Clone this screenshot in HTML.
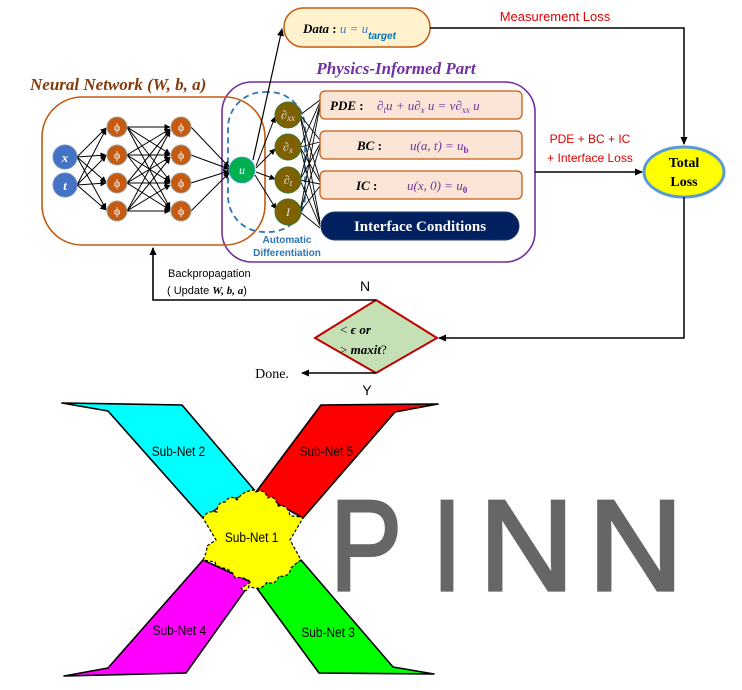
<!DOCTYPE html>
<html><head><meta charset="utf-8"><style>
html,body{margin:0;padding:0;background:#fff;}
svg{display:block;}
.serif{font-family:"Liberation Serif",serif;}
.sans{font-family:"Liberation Sans",sans-serif;}
</style></head><body>
<svg width="742" height="690" viewBox="0 0 742 690" xmlns="http://www.w3.org/2000/svg">
<defs>
<marker id="ar" markerWidth="8" markerHeight="8" refX="7" refY="4" orient="auto" markerUnits="userSpaceOnUse"><path d="M0,0.5 L8,4 L0,7.5 z" fill="#000"/></marker>
<marker id="ars" markerWidth="6" markerHeight="6" refX="5.5" refY="3" orient="auto" markerUnits="userSpaceOnUse"><path d="M0,0 L6,3 L0,6 z" fill="#000"/></marker>
</defs>

<rect x="284" y="8" width="146" height="39" rx="19" fill="#fff2cc" stroke="#c55a11" stroke-width="1.5"/>
<text x="303" y="33" class="serif" font-size="13" font-weight="bold" font-style="italic">Data<tspan font-style="normal"> : </tspan><tspan fill="#4472c4" font-weight="normal">u = u</tspan><tspan class="sans" fill="#0070c0" font-size="10" dy="6">target</tspan></text>
<text x="555" y="21" class="sans" font-size="13" fill="#e00000" text-anchor="middle">Measurement Loss</text>
<polyline points="430,28 684,28 684,144" fill="none" stroke="#000" stroke-width="1.5" marker-end="url(#ar)"/>

<text x="30" y="90" class="serif" font-size="17" font-weight="bold" font-style="italic" fill="#843c0c">Neural Network (W, b, a)</text>
<text x="396" y="74" class="serif" font-size="17" font-weight="bold" font-style="italic" fill="#7030a0" text-anchor="middle">Physics-Informed Part</text>

<rect x="222" y="82" width="313" height="180" rx="30" fill="none" stroke="#7030a0" stroke-width="1.6"/>
<rect x="42" y="97" width="223" height="148" rx="40" fill="none" stroke="#c55a11" stroke-width="1.6"/>
<rect x="228" y="92" width="77" height="140" rx="36" fill="none" stroke="#2e75b6" stroke-width="1.8" stroke-dasharray="6,4"/>
<text x="287" y="243" class="sans" font-size="10" font-weight="bold" fill="#2e75b6" text-anchor="middle">Automatic</text>
<text x="287" y="256" class="sans" font-size="10" font-weight="bold" fill="#2e75b6" text-anchor="middle">Differentiation</text>

<g stroke="#000" stroke-width="1" marker-end="url(#ars)">
<line x1="77" y1="157" x2="106" y2="128"/><line x1="77" y1="157" x2="106" y2="155"/><line x1="77" y1="157" x2="106" y2="182"/><line x1="77" y1="157" x2="106" y2="209"/>
<line x1="77" y1="185" x2="106" y2="129"/><line x1="77" y1="185" x2="106" y2="156"/><line x1="77" y1="185" x2="106" y2="183"/><line x1="77" y1="185" x2="106" y2="210"/>
<line x1="127" y1="127" x2="170" y2="127"/><line x1="127" y1="127" x2="170" y2="154"/><line x1="127" y1="127" x2="170" y2="181"/><line x1="127" y1="127" x2="170" y2="208"/>
<line x1="127" y1="155" x2="170" y2="129"/><line x1="127" y1="155" x2="170" y2="155"/><line x1="127" y1="155" x2="170" y2="182"/><line x1="127" y1="155" x2="170" y2="209"/>
<line x1="127" y1="183" x2="170" y2="130"/><line x1="127" y1="183" x2="170" y2="157"/><line x1="127" y1="183" x2="170" y2="183"/><line x1="127" y1="183" x2="170" y2="210"/>
<line x1="127" y1="211" x2="170" y2="131"/><line x1="127" y1="211" x2="170" y2="158"/><line x1="127" y1="211" x2="170" y2="185"/><line x1="127" y1="211" x2="170" y2="211"/>
<line x1="191" y1="127" x2="229" y2="167"/><line x1="191" y1="155" x2="229" y2="169"/><line x1="191" y1="183" x2="229" y2="171"/><line x1="191" y1="211" x2="229" y2="173"/>
<line x1="256" y1="166" x2="275" y2="117"/><line x1="256" y1="168" x2="275" y2="149"/><line x1="256" y1="172" x2="275" y2="179"/><line x1="255" y1="175" x2="276" y2="209"/>
</g>
<line x1="253" y1="160" x2="282" y2="29" stroke="#000" stroke-width="1.2" marker-end="url(#ar)"/>
<g stroke="#000" stroke-width="0.9">
<line x1="300" y1="115" x2="320" y2="100"/><line x1="300" y1="115" x2="320" y2="140"/><line x1="300" y1="115" x2="320" y2="180"/><line x1="300" y1="115" x2="320" y2="222"/>
<line x1="300" y1="147" x2="320" y2="102"/><line x1="300" y1="147" x2="320" y2="142"/><line x1="300" y1="147" x2="320" y2="182"/><line x1="300" y1="147" x2="320" y2="224"/>
<line x1="300" y1="180" x2="320" y2="104"/><line x1="300" y1="180" x2="320" y2="144"/><line x1="300" y1="180" x2="320" y2="184"/><line x1="300" y1="180" x2="320" y2="226"/>
<line x1="300" y1="212" x2="320" y2="106"/><line x1="300" y1="212" x2="320" y2="146"/><line x1="300" y1="212" x2="320" y2="186"/><line x1="300" y1="212" x2="320" y2="228"/>
</g>

<g stroke="#6f8fc8" stroke-width="1"><circle cx="65" cy="157" r="12" fill="#4472c4"/><circle cx="65" cy="185" r="12" fill="#4472c4"/></g>
<text x="65" y="162" class="serif" font-size="13" font-style="italic" font-weight="bold" fill="#fff" text-anchor="middle">x</text>
<text x="65" y="190" class="serif" font-size="13" font-style="italic" font-weight="bold" fill="#fff" text-anchor="middle">t</text>
<g fill="#c55a11" stroke="#a0a0a0" stroke-width="1">
<circle cx="117" cy="127" r="10"/><circle cx="117" cy="155" r="10"/><circle cx="117" cy="183" r="10"/><circle cx="117" cy="211" r="10"/>
<circle cx="181" cy="127" r="10"/><circle cx="181" cy="155" r="10"/><circle cx="181" cy="183" r="10"/><circle cx="181" cy="211" r="10"/>
</g>
<g class="serif" font-size="12" fill="#fff" text-anchor="middle">
<text x="117" y="131">ϕ</text><text x="117" y="159">ϕ</text><text x="117" y="187">ϕ</text><text x="117" y="215">ϕ</text>
<text x="181" y="131">ϕ</text><text x="181" y="159">ϕ</text><text x="181" y="187">ϕ</text><text x="181" y="215">ϕ</text>
</g>
<circle cx="242" cy="170" r="13" fill="#00b050" stroke="#5b9bd5" stroke-width="0.8"/>
<text x="242" y="174" class="serif" font-size="12" font-style="italic" fill="#fff" text-anchor="middle">u</text>
<g fill="#7f6000" stroke="#3a7a30" stroke-width="1">
<circle cx="288" cy="115" r="13"/><circle cx="288" cy="147" r="13"/><circle cx="288" cy="180" r="13"/><circle cx="288" cy="212" r="13"/>
</g>
<g class="serif" font-size="12" fill="#ddd" text-anchor="middle" font-style="italic">
<text x="288" y="119">∂<tspan font-size="9" dy="2">xx</tspan></text>
<text x="288" y="151">∂<tspan font-size="9" dy="2">x</tspan></text>
<text x="288" y="184">∂<tspan font-size="9" dy="2">t</tspan></text>
<text x="288" y="216">I</text>
</g>

<g fill="#fbe5d6" stroke="#c55a11" stroke-width="1.3">
<rect x="320" y="91" width="202" height="28" rx="5"/>
<rect x="320" y="131" width="202" height="28" rx="5"/>
<rect x="320" y="171" width="202" height="28" rx="5"/>
</g>
<g class="serif" font-size="13">
<text x="330" y="110" font-weight="bold" font-style="italic">PDE<tspan font-style="normal"> :</tspan></text>
<text x="377" y="110" fill="#7030a0" font-style="italic">∂<tspan font-size="9" dy="3">t</tspan><tspan dy="-3">u + u∂</tspan><tspan font-size="9" dy="3">x</tspan><tspan dy="-3"> u = ν∂</tspan><tspan font-size="9" dy="3">xx</tspan><tspan dy="-3"> u</tspan></text>
<text x="357" y="150" font-weight="bold" font-style="italic">BC<tspan font-style="normal"> :</tspan></text>
<text x="410" y="150" fill="#7030a0" font-style="italic">u(a, t) = u<tspan font-size="9" font-weight="bold" dy="3" font-style="normal">b</tspan></text>
<text x="356" y="190" font-weight="bold" font-style="italic">IC<tspan font-style="normal"> :</tspan></text>
<text x="407" y="190" fill="#7030a0" font-style="italic">u(x, 0) = u<tspan font-size="9" font-weight="bold" dy="3" font-style="normal">0</tspan></text>
</g>
<rect x="321" y="212" width="198" height="28" rx="14" fill="#002060" stroke="#1f3864"/>
<text x="420" y="231" class="serif" font-size="15" font-weight="bold" fill="#fff" text-anchor="middle">Interface Conditions</text>

<text x="590" y="143" class="sans" font-size="12" fill="#e00000" text-anchor="middle">PDE + BC + IC</text>
<text x="590" y="162" class="sans" font-size="12" fill="#e00000" text-anchor="middle">+ Interface Loss</text>
<line x1="535" y1="172" x2="642" y2="172" stroke="#000" stroke-width="1.5" marker-end="url(#ar)"/>
<ellipse cx="684" cy="172" rx="40" ry="25" fill="#ffff00" stroke="#5b9bd5" stroke-width="3"/>
<text x="684" y="167" class="serif" font-size="14" font-weight="bold" text-anchor="middle">Total</text>
<text x="684" y="186" class="serif" font-size="14" font-weight="bold" text-anchor="middle">Loss</text>
<polyline points="684,197 684,338 439,338" fill="none" stroke="#000" stroke-width="1.5" marker-end="url(#ar)"/>

<polygon points="376,300 437,338 376,373 315,338" fill="#c5e0b4" stroke="#c00000" stroke-width="2"/>
<text x="340" y="334" class="serif" font-size="13" font-weight="bold" font-style="italic"><tspan font-weight="normal" font-style="normal">&lt;</tspan> ϵ or</text>
<text x="340" y="354" class="serif" font-size="13" font-weight="bold" font-style="italic"><tspan font-weight="normal" font-style="normal">&gt;</tspan> maxit<tspan font-weight="normal" font-style="normal">?</tspan></text>
<polyline points="376,300 153,300 153,248" fill="none" stroke="#000" stroke-width="1.6" marker-end="url(#ar)"/>
<text x="168" y="277" class="sans" font-size="11">Backpropagation</text>
<text x="167" y="294" class="sans" font-size="11">( Update <tspan class="serif" font-style="italic" font-weight="bold">W, b, a</tspan>)</text>
<text x="365" y="291" class="sans" font-size="14" text-anchor="middle">N</text>
<line x1="376" y1="373" x2="302" y2="373" stroke="#000" stroke-width="1.5" marker-end="url(#ar)"/>
<text x="272" y="378" class="serif" font-size="14" text-anchor="middle">Done.</text>
<text x="367" y="395" class="sans" font-size="14" text-anchor="middle">Y</text>

<g stroke="#000" stroke-width="1.6" stroke-linejoin="round">
<polygon points="62,403 182,405 256,492 230,500 203,518 108,411" fill="#00ffff"/>
<polygon points="321,405 438,404 395,412 303,518 256,492" fill="#ff0000"/>
<polygon points="203,560 251,582 186,673 64,676 108,668" fill="#ff00ff"/>
<polygon points="301,560 393,667 434,674 319,673 256,587" fill="#00ff00"/>
</g>
<path d="M256,492 q8,-4 12,6 q6,-4 10,8 q10,-2 12,10 q8,0 13,2 L290,540 L301,560 q-6,4 -10,8 q-2,10 -12,8 q-4,10 -12,6 q-6,10 -18,4 q-2,8 -8,2 L251,582 q-8,-6 -16,-4 q-2,-8 -12,-10 q-8,-2 -8,-6 L203,560 q4,-8 4,-14 L216,540 L203,518 q4,-8 14,-6 q0,-10 8,-10 q6,-8 12,-2 q6,-10 19,-10 z" fill="#ffff00" stroke="#000" stroke-width="1.2" stroke-dasharray="3,2"/>
<g class="sans" font-size="14" text-anchor="middle" transform="scale(0.85,1)">
<text x="210" y="456">Sub-Net 2</text>
<text x="384" y="456">Sub-Net 5</text>
<text x="296" y="542">Sub-Net 1</text>
<text x="211" y="635">Sub-Net 4</text>
<text x="386" y="637">Sub-Net 3</text>
</g>

<g fill="#666" stroke="#666" stroke-width="1.5" class="sans" font-size="60">
<text transform="translate(330,590) scale(1.8,2.15)">P</text>
<text transform="translate(432,590) scale(1.8,2.15)">I</text>
<text transform="translate(479,590) scale(2.2,2.15)">N</text>
<text transform="translate(588,590) scale(2.2,2.15)">N</text>
</g>
</svg>
</body></html>
